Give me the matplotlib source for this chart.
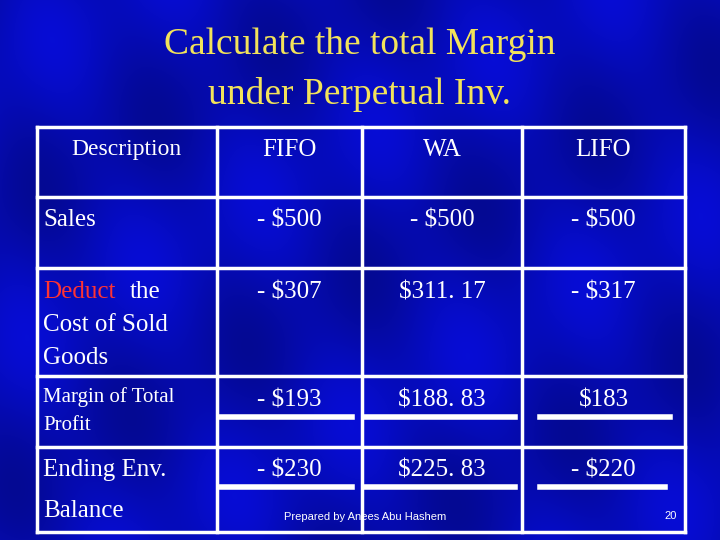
import matplotlib.pyplot as plt
import numpy as np

headers = ['Description', 'FIFO', 'WA', 'LIFO']
row_labels = ['Sales', 'Deduct the\nCost of Sold\nGoods', 'Margin of Total\nProfit', 'Ending Env.\nBalance']
fifo = ['- $500', '- $307', '- $193', '- $230']
wa = ['- $500', '$311. 17', '$188. 83', '$225. 83']
lifo = ['- $500', '- $317', '$183', '- $220']

col_x = [37, 217, 362, 522, 685]
row_y = [127, 197, 268, 376, 447, 532]

fig = plt.figure(figsize=(7.2, 5.4), dpi=100)
ax = fig.add_axes([0, 0, 1, 1])
ax.set_xlim(0, 720)
ax.set_ylim(540, 0)
ax.axis('off')

# background: blue with faint lighter streaks
yy, xx = np.mgrid[0:540, 0:720]
base = 0.72 + 0.08 * np.sin((xx * 0.6 + yy) / 45.0) + 0.05 * np.sin((xx - yy * 0.4) / 23.0)
img = np.zeros((540, 720, 3))
img[..., 0] = 0.03 * base
img[..., 1] = 0.06 * base
img[..., 2] = 0.98 * base
ax.imshow(np.clip(img, 0, 1), extent=[0, 720, 540, 0], zorder=0, aspect='auto')

serif = 'Liberation Serif'
title_col = '#F2E35A'
ax.text(360, 45, 'Calculate the total Margin', color=title_col, fontsize=27,
        family=serif, ha='center', va='center')
ax.text(360, 95, 'under Perpetual Inv.', color=title_col, fontsize=27,
        family=serif, ha='center', va='center')

# grid
for x in col_x:
    ax.plot([x, x], [row_y[0], row_y[-1]], color='white', lw=2.5, zorder=2)
for y in row_y:
    ax.plot([col_x[0], col_x[-1]], [y, y], color='white', lw=2.5, zorder=2)

ax.text(126, 150, headers[0], color='white', fontsize=17, family=serif, ha='center', va='center')
for i, h in enumerate(headers[1:]):
    cx = (col_x[i + 1] + col_x[i + 2]) / 2
    ax.text(cx, 150, h, color='white', fontsize=18, family=serif, ha='center', va='center')

# row labels
ax.text(43, 220, row_labels[0], color='white', fontsize=18, family=serif, va='center')
ax.text(43, 292, 'Deduct', color='#FF3333', fontsize=18, family=serif, va='center')
ax.text(130, 292, 'the', color='white', fontsize=18, family=serif, va='center')
ax.text(43, 325, 'Cost of Sold', color='white', fontsize=18, family=serif, va='center')
ax.text(43, 358, 'Goods', color='white', fontsize=18, family=serif, va='center')
ax.text(43, 397, 'Margin of Total', color='white', fontsize=15, family=serif, va='center')
ax.text(43, 426, 'Profit', color='white', fontsize=15, family=serif, va='center')
ax.text(43, 470, 'Ending Env.', color='white', fontsize=18, family=serif, va='center')
ax.text(43, 511, 'Balance', color='white', fontsize=18, family=serif, va='center')

value_y = [220, 292, 400, 470]
for col, vals in enumerate([fifo, wa, lifo]):
    cx = (col_x[col + 1] + col_x[col + 2]) / 2
    for y, v in zip(value_y, vals):
        ax.text(cx, y, v, color='white', fontsize=18, family=serif, ha='center', va='center')

# underlines
for x0, x1 in [(220, 352), (365, 515), (540, 670)]:
    ax.plot([x0, x1], [417, 417], color='white', lw=4, zorder=3)
for x0, x1 in [(220, 352), (365, 515), (540, 665)]:
    ax.plot([x0, x1], [487, 487], color='white', lw=4, zorder=3)

ax.text(365, 517, 'Prepared by Anees Abu Hashem', color='white', fontsize=8,
        family='Liberation Sans', ha='center', va='center')
ax.text(671, 516, '20', color='white', fontsize=8, family='Liberation Sans',
        ha='center', va='center')

fig.savefig('out.png', dpi=100)
